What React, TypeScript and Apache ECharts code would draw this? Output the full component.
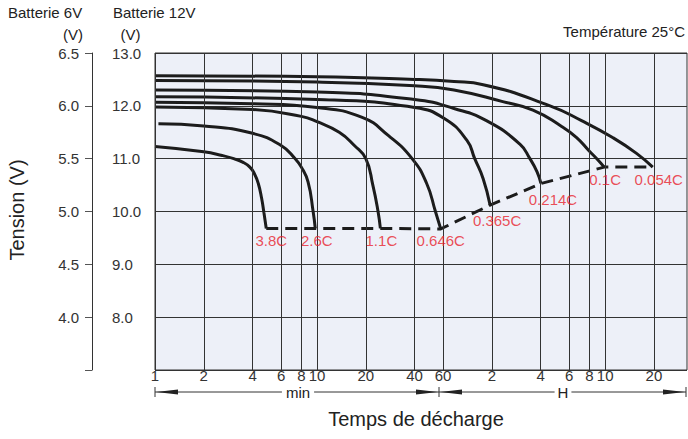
import React, { useEffect, useRef } from "react";
import * as echarts from "echarts";

// Discharge rates (labels)
const rates = ["3.8C", "2.6C", "1.1C", "0.646C", "0.365C", "0.214C", "0.1C", "0.054C"];

// Discharge time in minutes / voltage for a 12V battery
const t38 = [1, 2, 2.6, 3.06, 3.5, 3.85, 4.1, 4.34, 4.55, 4.7, 4.86];
const v38 = [11.23, 11.13, 11.06, 11.0, 10.93, 10.84, 10.72, 10.53, 10.25, 9.98, 9.68];
const t26 = [1.05, 2, 4, 6, 7.33, 8, 8.8, 9.46, 9.75];
const v26 = [11.66, 11.62, 11.48, 11.25, 11.0, 10.84, 10.56, 10.0, 9.68];
const t11 = [1, 4, 8, 10, 13.7, 17, 20, 22.1, 23.8, 24.6];
const v11 = [11.98, 11.93, 11.8, 11.7, 11.5, 11.25, 11.0, 10.5, 10.0, 9.68];
const t0646 = [1, 4, 10, 19, 27.5, 38.6, 47.5, 53.8, 58];
const v0646 = [12.07, 12.04, 11.97, 11.78, 11.44, 11.0, 10.53, 10.0, 9.67];
const t0365 = [1, 10, 40, 61, 84, 94, 106, 117];
const v0365 = [12.17, 12.12, 11.97, 11.76, 11.35, 11.0, 10.62, 10.12];
const t0214 = [1, 10, 40, 70, 111, 178, 206, 228, 241];
const v0214 = [12.3, 12.26, 12.12, 11.95, 11.72, 11.28, 11.0, 10.75, 10.53];
const t01 = [1, 10, 40, 70, 140, 215, 320, 400, 480, 540, 592];
const v01 = [12.48, 12.45, 12.38, 12.3, 12.08, 11.92, 11.62, 11.4, 11.14, 10.98, 10.84];
const t0054 = [1, 10, 40, 70, 106, 274, 429, 667, 937, 1180];
const v0054 = [12.57, 12.55, 12.5, 12.46, 12.4, 12.0, 11.72, 11.4, 11.1, 10.84];

// X grid ticks (minutes) and their labels
const gridTimes = [1, 2, 4, 6, 8, 10, 20, 40, 60, 120, 240, 360, 480, 600, 1200];
const gridLabels = ["1", "2", "4", "6", "8", "10", "20", "40", "60", "2", "4", "6", "8", "10", "20"];

const FONT = "'Liberation Sans', Arial, Helvetica, sans-serif";

export default function App() {
  const ref = useRef<HTMLDivElement>(null);
  useEffect(() => {
    if (!ref.current) return;
    const chart = echarts.init(ref.current, undefined, { renderer: "svg" });
    const curves = [
      [t38, v38], [t26, v26], [t11, v11], [t0646, v0646],
      [t0365, v0365], [t0214, v0214], [t01, v01], [t0054, v0054],
    ];
    const ends = curves.map(([t, v]) => [t[t.length - 1], v[v.length - 1]]);
    const labelOffsets = [[5, 0], [1.5, 0], [1, 0], [0, 0], [7, 3], [12, 4], [1, 0], [6, 0]];

    const series: any[] = curves.map(([t, v], i) => ({
      type: "line",
      name: rates[i],
      data: t.map((x, j) => [x, v[j]]),
      smooth: 0.5,
      showSymbol: false,
      symbol: "none",
      lineStyle: { color: "#1c1c1c", width: 3 },
      z: 4,
      silent: true,
    }));
    series.push({
      type: "line",
      data: ends,
      showSymbol: false,
      symbol: "none",
      lineStyle: { color: "#1c1c1c", width: 3, type: [12, 7] },
      z: 3,
      silent: true,
    });
    series.push({
      type: "scatter",
      data: ends.map((p, i) => ({
        value: p,
        label: { offset: labelOffsets[i] },
      })),
      symbolSize: 1,
      itemStyle: { color: "rgba(0,0,0,0)" },
      label: {
        show: true,
        position: "bottom",
        distance: 4,
        color: "#e8222c",
        fontSize: 15,
        fontFamily: FONT,
        formatter: (p: any) => rates[p.dataIndex],
      },
      z: 5,
      silent: true,
    });
    series.push({
      type: "line",
      data: [],
      z: 1,
      silent: true,
      markLine: {
        silent: true,
        symbol: ["none", "none"],
        animation: false,
        lineStyle: { color: "#333", width: 1, type: "solid" },
        label: {
          show: true,
          position: "start",
          distance: -1,
          lineHeight: 13,
          color: "#333",
          fontSize: 15,
          fontFamily: FONT,
        },
        data: gridTimes.map((t, i) => ({
          xAxis: t,
          label: { formatter: gridLabels[i] },
        })),
      },
    });

    const option: any = {
      animation: false,
      textStyle: { fontFamily: FONT },
      grid: {
        left: 155,
        right: 1,
        top: 53,
        bottom: 69,
        show: true,
        backgroundColor: "#edf0f8",
        borderColor: "#333",
        borderWidth: 1,
        containLabel: false,
        outerBoundsMode: "none",
      },
      xAxis: {
        type: "log",
        logBase: 10,
        min: 1,
        max: 1920,
        axisLine: { show: false },
        axisTick: { show: false },
        axisLabel: { show: false },
        splitLine: { show: false },
      },
      yAxis: [
        {
          type: "value",
          min: 7,
          max: 13,
          interval: 1,
          axisLine: { show: false },
          axisTick: { show: false },
          axisLabel: {
            align: "left",
            margin: 43,
            color: "#333",
            fontSize: 15,
            formatter: (v: number) => (v === 7 ? "" : v.toFixed(1)),
          },
          splitLine: { show: true, lineStyle: { color: "#333", width: 1 } },
        },
        {
          type: "value",
          position: "left",
          offset: 63,
          min: 3.5,
          max: 6.5,
          interval: 0.5,
          axisLine: { show: true, lineStyle: { color: "#333", width: 1 } },
          axisTick: { show: true, length: 7, lineStyle: { color: "#555" } },
          axisLabel: {
            margin: 13,
            color: "#333",
            fontSize: 15,
            formatter: (v: number) => (v === 3.5 ? "" : v.toFixed(1)),
          },
          splitLine: { show: false },
        },
      ],
      graphic: [
        { type: "text", left: 8, top: 5, style: { text: "Batterie 6V", fontSize: 15, fill: "#222", fontFamily: FONT } },
        { type: "text", left: 113, top: 5, style: { text: "Batterie 12V", fontSize: 15, fill: "#222", fontFamily: FONT } },
        { type: "text", x: 73, y: 34, style: { text: "(V)", fontSize: 15, fill: "#222", fontFamily: FONT, align: "center", verticalAlign: "middle" } },
        { type: "text", x: 130.5, y: 34, style: { text: "(V)", fontSize: 15, fill: "#222", fontFamily: FONT, align: "center", verticalAlign: "middle" } },
        { type: "text", x: 685, y: 31, style: { text: "Température 25°C", fontSize: 15, fill: "#222", fontFamily: FONT, align: "right", verticalAlign: "middle" } },
        { type: "text", x: 17, y: 210, rotation: Math.PI / 2, style: { text: "Tension (V)", fontSize: 20, fill: "#222", fontFamily: FONT, align: "center", verticalAlign: "middle" } },
        { type: "text", x: 416, y: 419, style: { text: "Temps de décharge", fontSize: 20, fill: "#222", fontFamily: FONT, align: "center", verticalAlign: "middle" } },
        { type: "line", shape: { x1: 155, y1: 392, x2: 686, y2: 392 }, style: { stroke: "#333", lineWidth: 1 } },
        { type: "line", shape: { x1: 155, y1: 387, x2: 155, y2: 397 }, style: { stroke: "#333", lineWidth: 1 } },
        { type: "line", shape: { x1: 439, y1: 387, x2: 439, y2: 397 }, style: { stroke: "#333", lineWidth: 1 } },
        { type: "line", shape: { x1: 686, y1: 387, x2: 686, y2: 397 }, style: { stroke: "#333", lineWidth: 1 } },
        { type: "polygon", shape: { points: [[156, 392], [178, 389.5], [178, 394.5]] }, style: { fill: "#222" } },
        { type: "polygon", shape: { points: [[438, 392], [416, 389.5], [416, 394.5]] }, style: { fill: "#222" } },
        { type: "polygon", shape: { points: [[440, 392], [462, 389.5], [462, 394.5]] }, style: { fill: "#222" } },
        { type: "polygon", shape: { points: [[685, 392], [663, 389.5], [663, 394.5]] }, style: { fill: "#222" } },
        { type: "text", x: 298, y: 392.5, style: { text: "min", fontSize: 15, lineHeight: 12, fill: "#222", fontFamily: FONT, align: "center", verticalAlign: "middle", backgroundColor: "#fff", padding: [0, 4] } },
        { type: "text", x: 563, y: 392.5, style: { text: "H", fontSize: 15, lineHeight: 12, fill: "#222", fontFamily: FONT, align: "center", verticalAlign: "middle", backgroundColor: "#fff", padding: [0, 3] } },
      ],
      series,
    };
    chart.setOption(option);
    return () => chart.dispose();
  }, []);
  return (
    <div
      ref={ref}
      style={{ position: "fixed", left: 0, top: 0, width: 688, height: 439, background: "#fff" }}
    />
  );
}
